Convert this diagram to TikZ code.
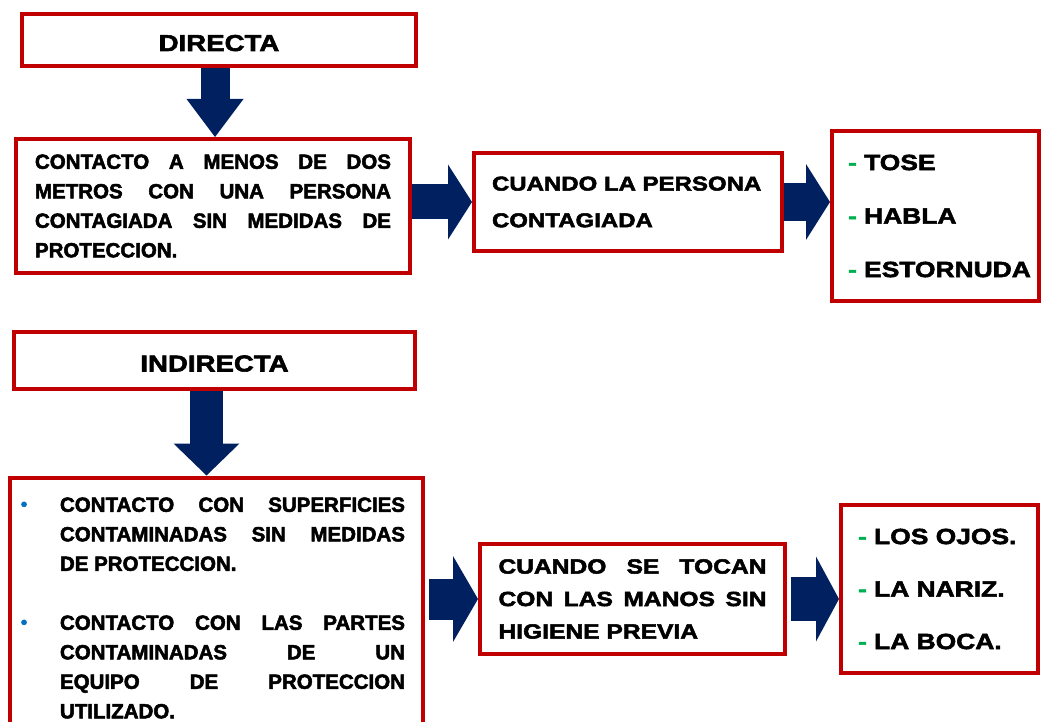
\documentclass[tikz,border=0pt]{standalone}
\usepackage{fontspec}
\setmainfont{Liberation Sans}
\newfontfamily\plainbold{Liberation Sans}[BoldFeatures={FakeBold=2.5}]
\newfontfamily\widebold{Liberation Sans}[FakeStretch=1.2,BoldFeatures={FakeBold=2.5}]
\usepackage{tikz}
\usetikzlibrary{arrows.meta}
\definecolor{boxred}{RGB}{192,0,0}
\definecolor{arrownavy}{RGB}{0,32,96}
\definecolor{dashgreen}{RGB}{0,176,80}
\definecolor{bulletblue}{RGB}{0,112,192}
\tikzset{
  redbox/.style={draw=boxred, line width=4pt, fill=white, inner sep=0pt},
  headbox/.style={redbox, text height=22pt, text depth=0pt,
    font=\widebold\bfseries\fontsize{23}{27}\selectfont},
  bigarrow/.style n args={3}{draw=arrownavy, line width=#1,
    -{Triangle[length=#2, width=#3, line width=0pt]}},
}
\newcommand{\gdash}[1]{\mbox{{\color{dashgreen}-}~#1}}
\newcommand{\bbullet}{\noindent\llap{\raisebox{1.5pt}{\color{bulletblue}\fontsize{18}{18}\selectfont\textbullet}\hspace{32.8pt}}}

\begin{document}
\begin{tikzpicture}[x=1pt,y=-1pt]
  \useasboundingbox (0,0) rectangle (1045,722);

  \node[headbox, minimum width=394pt, minimum height=52pt] (directa) at (219,40) {DIRECTA};
  \node[redbox, minimum width=394pt, minimum height=134pt, text width=356pt, align=justify,
    font=\plainbold\bfseries\fontsize{20.5}{29.5}\selectfont] (contacto) at (213,206)
    {CONTACTO A MENOS DE DOS\linebreak METROS CON UNA PERSONA\linebreak
     CONTAGIADA SIN MEDIDAS DE\linebreak PROTECCION.};
  \node[redbox, minimum width=308pt, minimum height=98pt, text width=272pt, align=left,
    font=\widebold\bfseries\fontsize{20}{36.7}\selectfont] (cuando) at (628,202)
    {CUANDO LA PERSONA\\ CONTAGIADA};
  \node[redbox, minimum width=207pt, minimum height=170pt, text width=175pt, align=left,
    font=\widebold\bfseries\fontsize{22}{53.5}\selectfont] (sintomas) at (935.5,216)
    {\gdash{TOSE}\\ \gdash{HABLA}\\ \gdash{ESTORNUDA}};

  \node[headbox, minimum width=401pt, minimum height=57pt] (indirecta) at (214.5,360.5) {INDIRECTA};
  \node[redbox, minimum width=413pt, minimum height=261pt, text width=377pt, align=justify,
    font=\plainbold\bfseries\fontsize{20.5}{29.5}\selectfont] (superficies) at (216.5,608)
    {\leftskip=32pt
     \bbullet CONTACTO CON SUPERFICIES\linebreak CONTAMINADAS SIN MEDIDAS\linebreak
     DE PROTECCION.\par\vspace{29.5pt}
     \bbullet CONTACTO CON LAS PARTES\linebreak CONTAMINADAS DE UN\linebreak
     EQUIPO DE PROTECCION\linebreak UTILIZADO.\par};
  \node[redbox, minimum width=305pt, minimum height=110pt, text width=268pt, align=justify,
    font=\widebold\bfseries\fontsize{20.5}{32.5}\selectfont] (manos) at (632.5,599)
    {CUANDO SE TOCAN\linebreak CON LAS MANOS SIN\linebreak HIGIENE PREVIA};
  \node[redbox, minimum width=197pt, minimum height=168pt, text width=163pt, align=left,
    font=\widebold\bfseries\fontsize{22}{52.5}\selectfont] (partes) at (939.5,589)
    {\gdash{LOS OJOS.}\\ \gdash{LA NARIZ.}\\ \gdash{LA BOCA.}};

  \draw[bigarrow={29pt}{38pt}{57pt}] ([xshift=-4pt]directa.south) -- ([xshift=-4pt]directa.south |- contacto.north);
  \draw[bigarrow={35pt}{24pt}{75pt}] (contacto.east |- cuando.west) -- (cuando.west);
  \draw[bigarrow={38pt}{24pt}{76pt}] (cuando.east) -- (cuando.east -| sintomas.west);
  \draw[bigarrow={33pt}{32pt}{66pt}] ([xshift=-8pt]indirecta.south) -- ([xshift=-8pt]indirecta.south |- superficies.north);
  \draw[bigarrow={41pt}{25pt}{86pt}, shorten <=4pt] (superficies.east |- manos.west) -- (manos.west);
  \draw[bigarrow={44pt}{23pt}{85pt}, shorten <=4pt] (manos.east) -- (manos.east -| partes.west);
\end{tikzpicture}
\end{document}
